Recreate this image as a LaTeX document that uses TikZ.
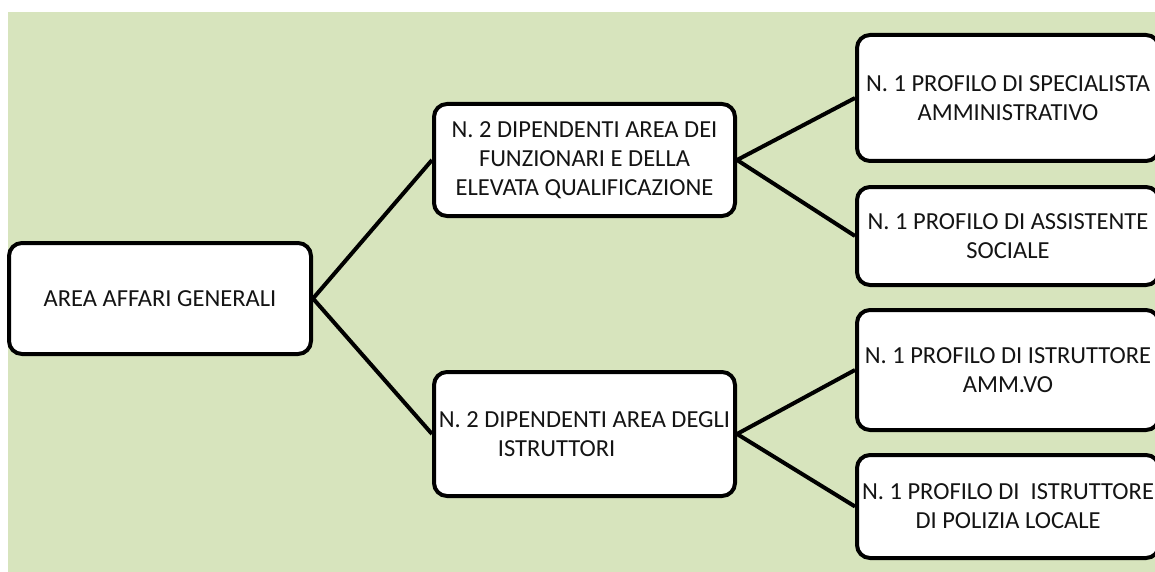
\documentclass[tikz,border=0pt]{standalone}
\usepackage{fontspec}
\setmainfont{Carlito}
\definecolor{bggreen}{RGB}{215,228,189}
\definecolor{txt}{RGB}{20,20,20}
\begin{document}
\begin{tikzpicture}[x=1pt,y=-1pt,
  box/.style={draw=black, line width=4pt, fill=white, rounded corners=13pt,
    inner sep=0pt, align=center, text=txt,
    font=\fontsize{24.5}{29}\selectfont},
  link/.style={draw=black, line width=4pt}]
\useasboundingbox (0,0) rectangle (1155,572);
\fill[bggreen] (8,12) rectangle (1155,572);
\node[box, minimum width=302pt, minimum height=111pt] (root) at (160,298.5) {AREA AFFARI GENERALI};
\node[box, minimum width=301pt, minimum height=112pt] (mt) at (584.5,160) {N. 2 DIPENDENTI AREA DEI\\FUNZIONARI E DELLA\\ELEVATA QUALIFICAZIONE};
\node[box, minimum width=301pt, minimum height=124pt, align=left] (mb) at (584.5,434) {N. 2 DIPENDENTI AREA DEGLI\\\hspace*{59pt}ISTRUTTORI};
\node[box, minimum width=302pt, minimum height=126pt] (r1) at (1008,98) {N. 1 PROFILO DI SPECIALISTA\\AMMINISTRATIVO};
\node[box, minimum width=302pt, minimum height=98pt] (r2) at (1008,236) {N. 1 PROFILO DI ASSISTENTE\\SOCIALE};
\node[box, minimum width=302pt, minimum height=120pt] (r3) at (1008,370) {N. 1 PROFILO DI ISTRUTTORE\\AMM.VO};
\node[box, minimum width=302pt, minimum height=103pt] (r4) at (1008,506.5) {N. 1 PROFILO DI\ \ ISTRUTTORE\\DI POLIZIA LOCALE};
\draw[link] (root.east) -- (mt.west);
\draw[link] (root.east) -- (mb.west);
\draw[link] (mt.east) -- (r1.west);
\draw[link] (mt.east) -- (r2.west);
\draw[link] (mb.east) -- (r3.west);
\draw[link] (mb.east) -- (r4.west);
\end{tikzpicture}
\end{document}
